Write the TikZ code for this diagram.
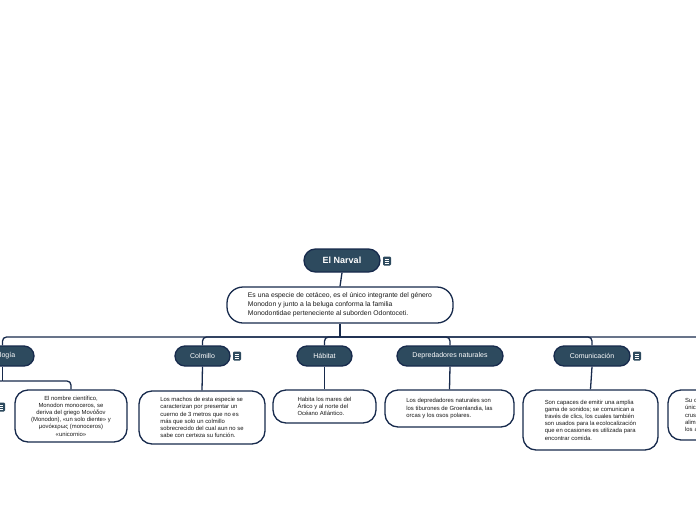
\documentclass[tikz,border=0pt]{standalone}
\usepackage{fontspec}
\setmainfont{Liberation Sans}
\definecolor{narvalfill}{HTML}{2D4A5E}
\definecolor{narvalline}{HTML}{172A4C}

\begin{document}
\begin{tikzpicture}[x=1pt, y=-1pt,
  topic/.style={draw=narvalline, line width=1.3pt, fill=narvalfill, text=white, rounded corners=10pt, minimum height=20pt, inner sep=0pt, font=\fontsize{7}{8}\selectfont},
  leaf/.style={draw=narvalline, line width=1.3pt, fill=white, text=black!90, rounded corners=13pt, inner sep=0pt, align=left, font=\fontsize{5.9}{7.2}\selectfont},
  conn/.style={draw=narvalline, line width=1.3pt, rounded corners=4pt},
  noteicon/.pic={
    \fill[narvalfill, rounded corners=1.2pt] (-4,-4.5) rectangle (4,4.5);
    \foreach \yy in {-2,0,2} \draw[white, line width=0.7pt] (-2.4,\yy) -- (2.4,\yy);
  }]
  \useasboundingbox (0,0) rectangle (696,520);
  \clip (0,0) rectangle (696,520);

  \node[topic, minimum width=76pt, minimum height=23pt, rounded corners=11.5pt, font=\fontsize{9}{10}\bfseries] (root) at (342,260.5) {El Narval};
  \pic at (387,261) {noteicon};
  \node[leaf, minimum width=226pt, minimum height=36pt, rounded corners=16pt, font=\fontsize{6.8}{9}\selectfont] (desc) at (340,305)
    {Es una especie de cetáceo, es el único integrante del género\\Monodon y junto a la beluga conforma la familia\\Monodontidae perteneciente al suborden Odontoceti.};

  \coordinate (bar) at (340,337);

  \node[topic, minimum width=63pt] (bio) at (2.5,356) {Biología};
  \node[topic, minimum width=55pt] (col) at (202.5,356) {Colmillo};
  \pic at (237,356) {noteicon};
  \node[topic, minimum width=55pt] (hab) at (324.5,356) {Hábitat};
  \node[topic, minimum width=106pt] (dep) at (450,356) {Depredadores naturales};
  \node[topic, minimum width=76pt] (com) at (592,356) {Comunicación};
  \pic at (637,356) {noteicon};
  \node[topic, minimum width=60pt] (ali) at (740,356) {};

  \coordinate (biosplit) at (2.5,381);
  \node[leaf, minimum width=100pt, minimum height=35pt] (bioleft) at (-56,407.5) {};
  \pic at (1,407) {noteicon};
  \node[leaf, minimum width=112pt, minimum height=52pt, align=center] (biochild) at (71,416)
    {El nombre científico,\\Monodon monoceros, se\\deriva del griego Μονόδον\\(Monodon), «un solo diente» y\\μονόκερως (monoceros)\\«unicornio»};
  \node[leaf, minimum width=126pt, minimum height=53pt] (colchild) at (202,417.5)
    {Los machos de esta especie se\\caracterizan por presentar un\\cuerno de 3 metros que no es\\más que solo un colmillo\\sobrecrecido del cual aun no se\\sabe con certeza su función.};
  \node[leaf, minimum width=103pt, minimum height=33pt] (habchild) at (324.5,406.5)
    {Habita los mares del\\Ártico y al norte del\\Océano Atlántico.};
  \node[leaf, minimum width=129pt, minimum height=37pt] (depchild) at (449.5,408.5)
    {Los depredadores naturales son\\los tiburones de Groenlandia, las\\orcas y los osos polares.};
  \node[leaf, minimum width=135pt, minimum height=60pt] (comchild) at (590.5,420)
    {Son capaces de emitir una amplia\\gama de sonidos; se comunican a\\través de clics, los cuales también\\son usados para la ecolocalización\\que en ocasiones es utilizada para\\encontrar comida.};
  \node[leaf, minimum width=144pt, minimum height=50pt, text width=110pt, inner xsep=17pt] (alichild) at (740,415)
    {Su comida es la\\única presa de\\crustáceos y peces\\alimento para\\los adultos};

  \draw[conn] (root.south) -- (desc.north);
  \draw[conn] (desc.south) -- (bar);
  \draw[conn] (bar) -| (bio.north);
  \draw[conn] (bar) -| (col.north);
  \draw[conn] (bar) -| (hab.north);
  \draw[conn] (bar) -| (dep.north);
  \draw[conn] (bar) -| (com.north);
  \draw[conn] (bar) -| (ali.north);
  \draw[conn] (bio.south) -- (biosplit);
  \draw[conn] (biosplit) -| (bioleft.north);
  \draw[conn] (biosplit) -| (biochild.north);
  \draw[conn] (col.south) -- (colchild.north);
  \draw[conn] (hab.south) -- (habchild.north);
  \draw[conn] (dep.south) -- (depchild.north);
  \draw[conn] (com.south) -- (comchild.north);
  \draw[conn] (ali.south) -- (alichild.north);
\end{tikzpicture}
\end{document}
